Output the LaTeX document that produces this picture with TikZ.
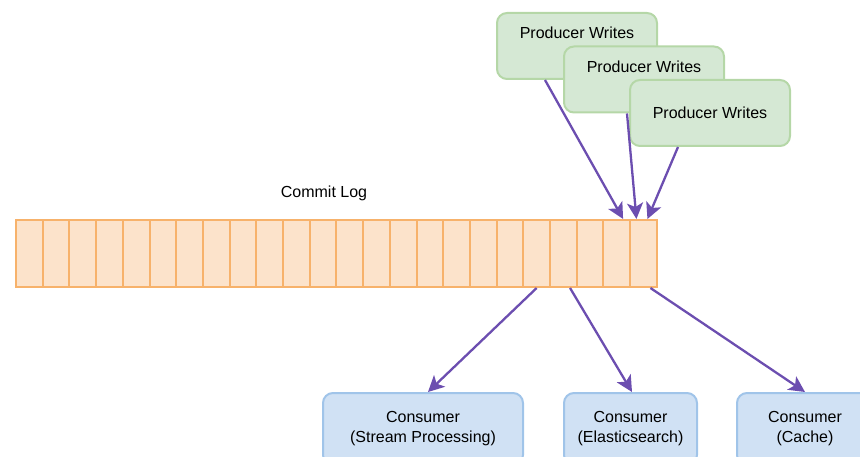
\documentclass[tikz,border=0pt]{standalone}
\usepackage{fontspec}
\setmainfont{Liberation Sans}
\usetikzlibrary{calc,positioning,arrows.meta,shapes}
\definecolor{logfill}{RGB}{252,227,203}
\definecolor{logdraw}{RGB}{247,178,107}
\definecolor{prodfill}{RGB}{213,232,212}
\definecolor{proddraw}{RGB}{181,215,167}
\definecolor{consfill}{RGB}{208,225,244}
\definecolor{consdraw}{RGB}{160,196,233}
\definecolor{flowcol}{RGB}{108,78,176}
\tikzset{
>={Stealth[length=16pt,width=16pt,inset=4pt]},
  logcell/.style={
    rectangle,
    fill=logfill,
    draw=logdraw, line width=2pt,
    minimum width=26.7pt,
    minimum height=67pt,
    inner sep=0pt},
  producer/.style={
    rectangle,
    rounded corners=10pt,
    fill=prodfill,
    draw=proddraw, line width=2pt,
    minimum width=160pt,
    minimum height=66pt,
    inner sep=4pt,
    font=\fontsize{16}{19}\selectfont},
  toptext/.style={text height=22pt, text depth=36pt},
  consumer/.style={
    rectangle,
    rounded corners=10pt,
    fill=consfill,
    draw=consdraw, line width=2pt,
    minimum height=72pt,
    align=center,
    font=\fontsize{16}{20}\selectfont},
  flow/.style={draw=flowcol, line width=2.3pt, ->},
}
\begin{document}
\begin{tikzpicture}
  [x=1pt, y=-1pt]
    \useasboundingbox (0,0) rectangle (860,457);

    % commit log
    \foreach \i in {1,...,24}
      \node[logcell] (c\i) at ({16+26.7*(\i-0.5)},253.5) {};
    \node[font=\fontsize{16}{19}\selectfont] (loglabel) at (324,193) {Commit Log};

    % producers
    \node[producer, toptext] (prod1) at (577,46) {Producer Writes};
    \node[producer, toptext] (prod2) at (644,79.5) {Producer Writes};
    \node[producer] (prod3) at (710,113) {Producer Writes};

    % consumers
    \node[consumer, minimum width=200pt] (stream) at (423,429) {Consumer\\(Stream Processing)};
    \node[consumer, minimum width=133pt] (elastic) at (630.5,429) {Consumer\\(Elasticsearch)};
    \node[consumer, minimum width=136pt] (cache) at (805,429) {Consumer\\(Cache)};

    \draw[flow] ([xshift=-32pt]prod1.south) -- ([xshift=-8pt]c23.north east);
    \draw[flow] ([xshift=-17pt]prod2.south) -- ([xshift=-7pt]c24.north);
    \draw[flow] ([xshift=-32pt]prod3.south) -- ([xshift=4pt]c24.north);

    \draw[flow] (c20.south) -- ([xshift=5pt]stream.north);
    \draw[flow] ([xshift=6.7pt]c21.south) -- ([xshift=1.5pt]elastic.north);
    \draw[flow] ([xshift=7pt]c24.south) -- (cache.north);

\end{tikzpicture}
\end{document}
